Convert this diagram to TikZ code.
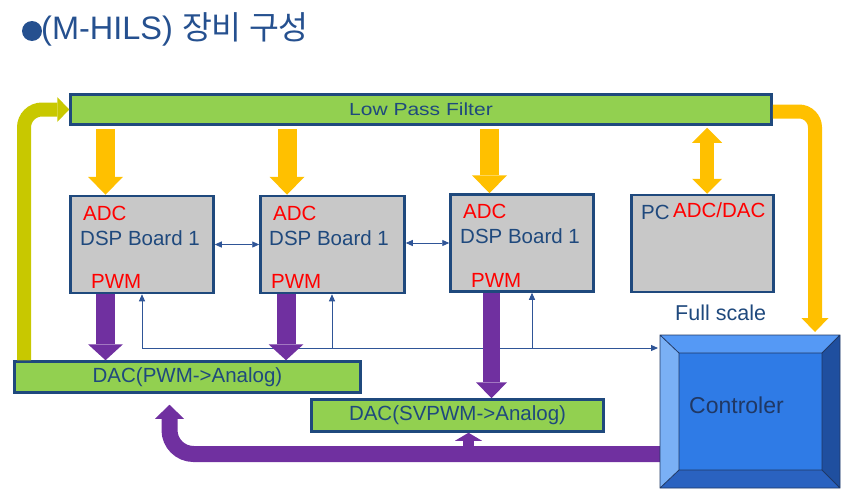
\documentclass[tikz,border=0pt]{standalone}
\usepackage{fontspec}
\setmainfont{Liberation Sans}
\newfontfamily\krfont{Noto Sans CJK KR}
\usetikzlibrary{arrows.meta,calc}

\definecolor{edgeblue}{HTML}{1F497D}
\definecolor{txtblue}{HTML}{1F497D}
\definecolor{titleblue}{HTML}{25508F}
\definecolor{bargreen}{HTML}{92D050}
\definecolor{boardgray}{HTML}{C8C8C8}
\definecolor{hilsgold}{HTML}{FFC000}
\definecolor{hilsolive}{HTML}{C8C800}
\definecolor{hilsviolet}{HTML}{7030A0}
\definecolor{busblue}{HTML}{2F5597}
\definecolor{ctrlface}{HTML}{2F7BE6}
\definecolor{ctrltop}{HTML}{5599F5}
\definecolor{ctrlleft}{HTML}{7AB0F5}
\definecolor{ctrlright}{HTML}{1F4F9F}
\definecolor{ctrlbottom}{HTML}{2A62C0}
\definecolor{ctrltxt}{HTML}{203864}

\tikzset{
  board/.style={draw=edgeblue, line width=2.5pt, fill=boardgray,
    minimum width=143pt, minimum height=97pt, inner sep=0pt},
  bar/.style={draw=edgeblue, line width=2.5pt, fill=bargreen, inner sep=0pt,
    text=txtblue, font=\fontsize{20.5}{24}\selectfont},
  redtxt/.style={anchor=base west, inner sep=0pt, text=red,
    font=\fontsize{20.5}{24}\selectfont},
  bluetxt/.style={anchor=base west, inner sep=0pt, text=txtblue,
    font=\fontsize{20.5}{24}\selectfont},
  buswire/.style={draw=busblue, line width=0.9pt},
  yeldown/.style={draw=hilsgold, line width=19pt,
    -{Triangle[length=18pt,width=35pt,line width=0pt]}},
  purdown/.style={draw=hilsviolet, line width=19pt,
    -{Triangle[length=16pt,width=35pt,line width=0pt]}},
}

\begin{document}
\begin{tikzpicture}[x=1pt,y=-1pt]
  \useasboundingbox (0,0) rectangle (842,490);

  % title
  \node[circle, fill=titleblue, minimum size=20pt, inner sep=0pt] (bullet) at (32,31) {};
  \node[anchor=base west, inner sep=0pt, text=titleblue, font=\fontsize{32.5}{38}\selectfont]
    (title) at (41,39) {(M-HILS) {\krfont 장비 구성}};

  % boxes
  \node[bar, minimum width=701pt, minimum height=30pt] (lpf) at (421,109.5)
    {\fontsize{17.5}{20}\selectfont\scalebox{1.2}[1]{Low Pass Filter}};
  \node[board] (dsp1) at (142,244.5) {};
  \node[board, minimum width=144pt] (dsp2) at (332.5,244.5) {};
  \node[board] (dsp3) at (522,243) {};
  \node[board, minimum width=142pt] (pc) at (702.5,243.5) {};
  \node[bar, minimum width=346pt, minimum height=31pt] (dac1) at (187.5,377) {DAC(PWM->Analog)};
  \node[bar, minimum width=292pt, minimum height=32pt] (dac2) at (457.5,415.5) {DAC(SVPWM->Analog)};

  % labels in the boards
  \node[redtxt] (adc1) at (83,220) {ADC};
  \node[bluetxt] (name1) at (80,245) {DSP Board 1};
  \node[redtxt] (pwm1) at (91,288) {PWM};
  \node[redtxt] (adc2) at (273,220) {ADC};
  \node[bluetxt] (name2) at (269,245) {DSP Board 1};
  \node[redtxt] (pwm2) at (271,288) {PWM};
  \node[redtxt] (adc3) at (463,218) {ADC};
  \node[bluetxt] (name3) at (460,243) {DSP Board 1};
  \node[redtxt] (pwm3) at (471,287) {PWM};
  \node[bluetxt] (pcname) at (641,219) {PC};
  \node[redtxt] (pcadc) at (673,217) {ADC/DAC};
  \node[bluetxt, font=\fontsize{21.5}{24}\selectfont] (full) at (675,320) {Full scale};

  % controller
  \node[minimum width=180pt, minimum height=153pt, inner sep=0pt, outer sep=0pt] (ctrl) at (750,411.5) {};

  % bus from the boards to the controller
  \draw[buswire, {Triangle[length=7pt,width=6pt]}-{Triangle[length=7pt,width=6pt]}, shorten >=2pt]
    (dsp1.south) |- (ctrl.west |- 0,348);
  \draw[buswire, -{Triangle[length=7pt,width=6pt]}] (332,348) -- (332,0 |- dsp2.south);
  \draw[buswire, -{Triangle[length=7pt,width=6pt]}] (532,348) -- (532,0 |- dsp3.south);

  % filter outputs
  \draw[yeldown, shorten <=3pt] (105.5,0 |- lpf.south) -- (105.5,0 |- dsp1.north);
  \draw[yeldown, shorten <=3pt] (287,0 |- lpf.south) -- (287,0 |- dsp2.north);
  \draw[yeldown, shorten <=3pt] (489.5,0 |- lpf.south) -- (489.5,0 |- dsp3.north);
  \draw[draw=hilsgold, line width=14pt, shorten <=2pt,
    {Triangle[length=15pt,width=30pt,line width=0pt]}-{Triangle[length=15pt,width=30pt,line width=0pt]}]
    (707,0 |- lpf.south) -- (707,0 |- pc.north);

  % feedback into the filter
  \draw[draw=hilsolive, line width=14pt, rounded corners=18pt,
    -{Triangle[length=12pt,width=25pt,line width=0pt]}]
    (24,0 |- dac1.north) |- (lpf.west);

  % PWM outputs
  \draw[purdown] (105.5,0 |- dsp1.south) -- (105.5,0 |- dac1.north);
  \draw[purdown] (286,0 |- dsp2.south) -- (286,0 |- dac1.north);
  \draw[purdown, line width=17pt, -{Triangle[length=16pt,width=31pt,line width=0pt]}]
    (491.5,0 |- dsp3.south) -- (491.5,0 |- dac2.north);

  % links between boards
  \draw[buswire, {Triangle[length=7pt,width=6pt]}-{Triangle[length=7pt,width=6pt]}] (dsp1.east) -- (dsp2.west);
  \draw[buswire, {Triangle[length=7pt,width=6pt]}-{Triangle[length=7pt,width=6pt]}]
    (dsp2.east |- 0,243) -- (dsp3.west);

  % filter to controller
  \draw[draw=hilsgold, line width=14pt, rounded corners=16pt,
    -{Triangle[length=14pt,width=27pt,line width=0pt]}, shorten >=3pt]
    (lpf.east |- 0,111.5) -| (815,0 |- ctrl.north);

  % controller back to the DACs
  \draw[draw=hilsviolet, line width=16pt, rounded corners=24pt,
    -{Triangle[length=14pt,width=29pt,line width=0pt]}, shorten >=11pt]
    (ctrl.west |- 0,454) -| (169.5,0 |- dac1.south);
  \draw[draw=hilsviolet, line width=11pt,
    -{Triangle[length=8pt,width=27pt,line width=0pt]}]
    (468.5,454) -- (468.5,0 |- dac2.south);

  % bevelled controller block
  \coordinate (i1) at ($(ctrl.north west)+(19,18)$);
  \coordinate (i2) at ($(ctrl.north east)+(-18,18)$);
  \coordinate (i3) at ($(ctrl.south east)+(-18,-18)$);
  \coordinate (i4) at ($(ctrl.south west)+(19,-18)$);
  \fill[ctrltop] (ctrl.north west) -- (ctrl.north east) -- (i2) -- (i1) -- cycle;
  \fill[ctrlright] (ctrl.north east) -- (ctrl.south east) -- (i3) -- (i2) -- cycle;
  \fill[ctrlbottom] (ctrl.south east) -- (ctrl.south west) -- (i4) -- (i3) -- cycle;
  \fill[ctrlleft] (ctrl.south west) -- (ctrl.north west) -- (i1) -- (i4) -- cycle;
  \fill[ctrlface] (i1) rectangle (i3);
  \draw[ctrltxt, line width=0.8pt] (ctrl.north west) rectangle (ctrl.south east)
    (i1) rectangle (i3)
    (ctrl.north west) -- (i1) (ctrl.north east) -- (i2)
    (ctrl.south east) -- (i3) (ctrl.south west) -- (i4);
  \node[anchor=base west, inner sep=0pt, text=ctrltxt, font=\fontsize{23}{26}\selectfont]
    (ctrlname) at (689,413) {Controler};
\end{tikzpicture}
\end{document}
